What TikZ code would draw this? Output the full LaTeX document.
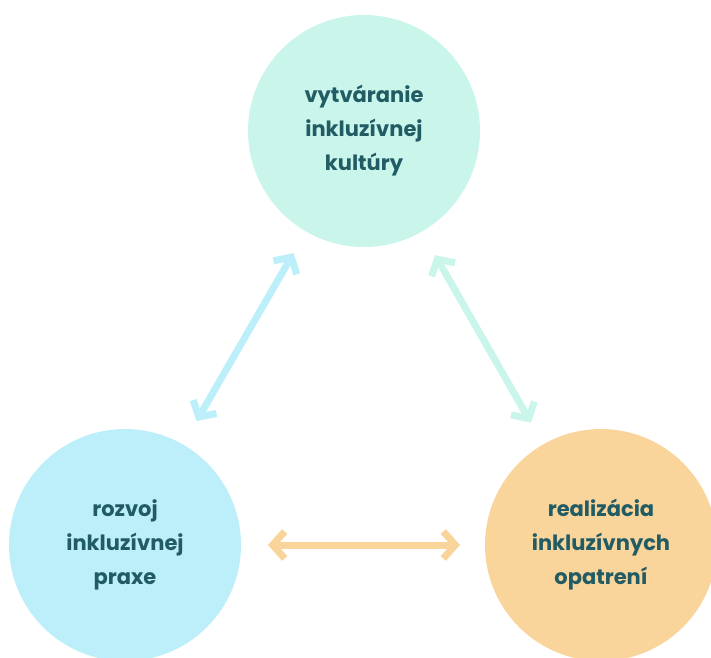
\documentclass[tikz,border=0pt]{standalone}
\usepackage{fontspec}
\setmainfont{Poppins}
\usetikzlibrary{arrows.meta}

\definecolor{mintcol}{HTML}{C9F5EB}
\definecolor{skycol}{HTML}{BDEFFB}
\definecolor{sandcol}{HTML}{FAD59B}
\definecolor{inkcol}{HTML}{215B64}

\tikzset{
  pillar/.style={circle, minimum size=232pt, inner sep=0pt, outer sep=0pt, align=center,
    text=inkcol, font=\fontsize{21}{34}\selectfont\bfseries},
  link/.style={line width=7pt, shorten <=27pt, shorten >=25pt,
    {Straight Barb[length=12pt, width=27pt]}-{Straight Barb[length=12pt, width=27pt]}}
}

\begin{document}
\begin{tikzpicture}[x=1pt, y=-1pt]

\useasboundingbox (0,0) rectangle (711,657);
\clip (0,0) rectangle (711,657);

\node at (364,131) [pillar, fill=mintcol] (kultura) {vytváranie\\ inkluzívnej\\ kultúry};
\node at (125,545) [pillar, fill=skycol] (prax) {rozvoj\\ inkluzívnej\\ praxe};
\node at (601,545) [pillar, fill=sandcol] (opatrenia) {realizácia\\ inkluzívnych\\ opatrení};

\draw[link, draw=skycol] (prax) -- (kultura);
\draw[link, draw=mintcol] (kultura) -- (opatrenia);
\draw[link, draw=sandcol] (prax) -- (opatrenia);

\end{tikzpicture}
\end{document}
